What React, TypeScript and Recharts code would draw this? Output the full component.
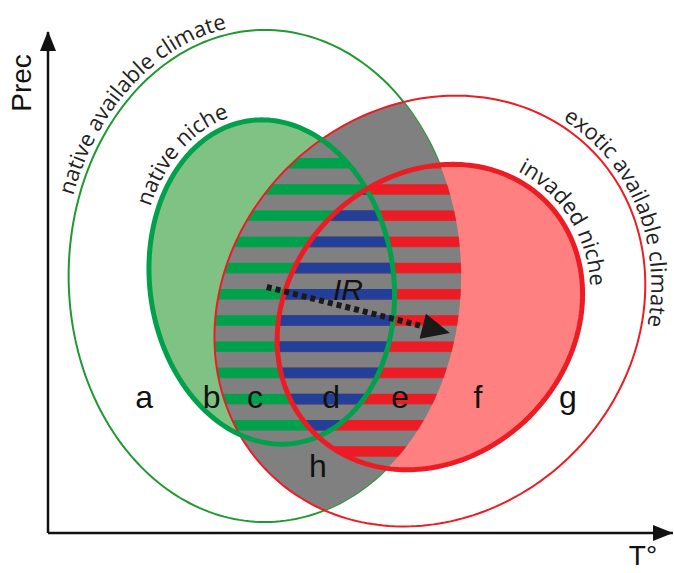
import { ComposedChart, XAxis, YAxis, Scatter, ReferenceArea, ReferenceLine, ReferenceDot } from 'recharts';

// envelopes: native available climate, exotic available climate, native niche, invaded niche
// centre + semi-axes in axis units (T°, Prec: 0..100), tilt in degrees
const envelopeIds = ['nativeAvail', 'exoticAvail', 'nativeNiche', 'invadedNiche'];
const envelopeT = [34.7, 61.1, 35.8, 61.1];
const envelopePrec = [51.3, 44.3, 50.1, 43.1];
const envelopeRadT = [31.4, 36.5, 19.5, 26.2];
const envelopeRadPrec = [49.1, 40.3, 32.5, 28.1];
const envelopeTilt = [0, -45, -8, -45];

// curved labels: text, envelope it follows, angle of its middle
const curveText = ['native available climate', 'native niche', 'exotic available climate', 'invaded niche'];
const curveEnvelope = [0, 2, 1, 3];
const curveAngle = [233, 242, 19, 10];

// region letters
const regionLetters = ['a', 'b', 'c', 'd', 'e', 'f', 'g', 'h'];
const letterT = [15.4, 26.2, 33.1, 45.3, 56.3, 68.8, 83.2, 43.2];
const letterPrec = [25, 25, 25, 25, 25, 25, 25, 11.2];

// IR shift arrow
const irLabel = [{ t: 48, prec: 46.5, name: 'IR' }];
const irArrow = [
  { x: 35.0, y: 49.1 },
  { x: 64.3, y: 39.9 },
];

const letters = regionLetters.map((name, i) => ({ name, t: letterT[i], prec: letterPrec[i] }));

const GREEN = '#00a14b';
const GREEN_THIN = '#1f9a30';
const RED = '#ed1c24';
const NICHE_GREEN = '#80c283';
const NICHE_RED = '#fe8080';
const GRAY = '#808080';
const BLUE = '#22409a';

type Layer = { env: number; fill?: string; stroke?: string; sw?: number; clip?: number };
const layers: Layer[] = [
  { env: 0, stroke: GREEN_THIN, sw: 2 },
  { env: 2, fill: NICHE_GREEN },
  { env: 3, fill: NICHE_RED },
  { env: 0, fill: GRAY, clip: 1 },
  { env: 2, fill: 'url(#st-green)', clip: 1 },
  { env: 3, fill: 'url(#st-red)', clip: 0 },
  { env: 3, fill: 'url(#st-blue)', clip: 2 },
  { env: 1, stroke: RED, sw: 2 },
  { env: 2, stroke: GREEN, sw: 5 },
  { env: 3, stroke: RED, sw: 5 },
];

// pixel geometry of an envelope from the ReferenceArea box the scales produced
function geom(p: any) {
  return { cx: p.x + p.width / 2, cy: p.y + p.height / 2, rx: p.width / 2, ry: p.height / 2 };
}

function arcPath(g: any, env: number, offset: number, from: number, to: number, steps: number, close = false) {
  const a = (envelopeTilt[env] * Math.PI) / 180;
  const out: string[] = [];
  for (let i = 0; i <= steps; i++) {
    const t = ((from + ((to - from) * i) / steps) * Math.PI) / 180;
    const lx = (g.rx + offset) * Math.cos(t);
    const ly = (g.ry + offset) * Math.sin(t);
    const x = g.cx + lx * Math.cos(a) - ly * Math.sin(a);
    const y = g.cy + lx * Math.sin(a) + ly * Math.cos(a);
    out.push(`${i ? 'L' : 'M'}${x.toFixed(2)},${y.toFixed(2)}`);
  }
  return out.join(' ') + (close ? ' Z' : '');
}

const outline = (p: any, env: number) => arcPath(geom(p), env, 0, 0, 360, 240, true);

const box = (env: number) => ({
  x1: envelopeT[env] - envelopeRadT[env],
  x2: envelopeT[env] + envelopeRadT[env],
  y1: envelopePrec[env] - envelopeRadPrec[env],
  y2: envelopePrec[env] + envelopeRadPrec[env],
});

const stripe = (id: string, color: string) => (
  <pattern id={id} patternUnits="userSpaceOnUse" width={10} height={26.2} y={0.8}>
    <rect width={10} height={10.5} fill={color} />
  </pattern>
);

export default function App() {
  return (
    <div style={{ position: 'absolute', left: 0, top: 0 }}>
      <ComposedChart width={674} height={573} margin={{ top: 32, right: 1, bottom: 40, left: 48 }}>
        <XAxis type="number" dataKey="t" domain={[0, 100]} height={0} tick={false} tickLine={false} axisLine={false} />
        <YAxis type="number" dataKey="prec" domain={[0, 100]} width={0} tick={false} tickLine={false} axisLine={false} />

        {envelopeIds.map((id, env) => (
          <ReferenceArea key={'def-' + id} {...box(env)} ifOverflow="visible"
            shape={(p: any) => (
              <defs>
                <clipPath id={'clip-' + env}>
                  <path d={outline(p, env)} />
                </clipPath>
                {env === 0 && stripe('st-green', GREEN)}
                {env === 0 && stripe('st-red', RED)}
                {env === 0 && stripe('st-blue', BLUE)}
              </defs>
            )} />
        ))}

        {layers.map((l, i) => (
          <ReferenceArea key={'layer-' + i} {...box(l.env)} ifOverflow="visible"
            shape={(p: any) => (
              <g clipPath={l.clip !== undefined ? `url(#clip-${l.clip})` : undefined}>
                <path d={outline(p, l.env)} fill={l.fill ?? 'none'} stroke={l.stroke ?? 'none'} strokeWidth={l.sw ?? 0} />
              </g>
            )} />
        ))}

        {curveText.map((text, i) => {
          const env = curveEnvelope[i];
          return (
            <ReferenceArea key={'curve-' + i} {...box(env)} ifOverflow="visible"
              shape={(p: any) => {
                const off = env < 2 ? 6 : 8;
                return (
                  <g>
                    <path id={'cp-' + i} d={arcPath(geom(p), env, off, curveAngle[i] - 75, curveAngle[i] + 75, 90)} fill="none" />
                    <text fontFamily="'Open Sans', sans-serif" fontSize={22} fill="#222">
                      <textPath href={'#cp-' + i} startOffset="50%" textAnchor="middle">{text}</textPath>
                    </text>
                  </g>
                );
              }} />
          );
        })}

        <ReferenceLine x={0} ifOverflow="visible" stroke="#111" strokeWidth={2.5} />
        <ReferenceLine y={0} ifOverflow="visible" stroke="#111" strokeWidth={2.5} />

        <Scatter data={letters} isAnimationActive={false}
          shape={(p: any) => (
            <text x={p.cx} y={p.cy} textAnchor="middle" fontFamily="'Liberation Sans', Arial, sans-serif" fontSize={32} fill="#111">
              {p.payload.name}
            </text>
          )} />
        <Scatter data={irLabel} isAnimationActive={false}
          shape={(p: any) => (
            <text x={p.cx} y={p.cy} textAnchor="middle" fontFamily="'Liberation Sans', Arial, sans-serif" fontStyle="italic" fontSize={30} fill="#111">
              {p.payload.name}
            </text>
          )} />

        <ReferenceLine segment={irArrow} ifOverflow="visible"
          shape={(p: any) => {
            const { x1, y1, x2, y2 } = p;
            const len = Math.hypot(x2 - x1, y2 - y1);
            const ux = (x2 - x1) / len;
            const uy = (y2 - y1) / len;
            const hl = 28;
            const hw = 13;
            const bx = x2 - ux * hl;
            const by = y2 - uy * hl;
            return (
              <g>
                <line x1={x1} y1={y1} x2={bx + ux * 2} y2={by + uy * 2} stroke="#1a1a1a" strokeWidth={6} strokeDasharray="5 4" />
                <polygon points={`${x2},${y2} ${bx - uy * hw},${by + ux * hw} ${bx + uy * hw},${by - ux * hw}`} fill="#1a1a1a" />
              </g>
            );
          }} />

        <ReferenceDot x={0} y={100} ifOverflow="visible"
          shape={(p: any) => (
            <g>
              <polygon points={`${p.cx},${p.cy - 1} ${p.cx - 8},${p.cy + 19} ${p.cx + 8},${p.cy + 19}`} fill="#111" />
              <text x={p.cx - 17} y={p.cy + 51} transform={`rotate(-90 ${p.cx - 17} ${p.cy + 51})`} textAnchor="middle"
                fontFamily="'Liberation Sans', Arial, sans-serif" fontSize={28} fill="#111">Prec</text>
            </g>
          )} />
        <ReferenceDot x={100} y={0} ifOverflow="visible"
          shape={(p: any) => (
            <g>
              <polygon points={`${p.cx},${p.cy} ${p.cx - 20},${p.cy - 8} ${p.cx - 20},${p.cy + 8}`} fill="#111" />
              <text x={p.cx - 30} y={p.cy + 32} textAnchor="middle"
                fontFamily="'Liberation Sans', Arial, sans-serif" fontSize={28} fill="#111">T°</text>
            </g>
          )} />
      </ComposedChart>
    </div>
  );
}
